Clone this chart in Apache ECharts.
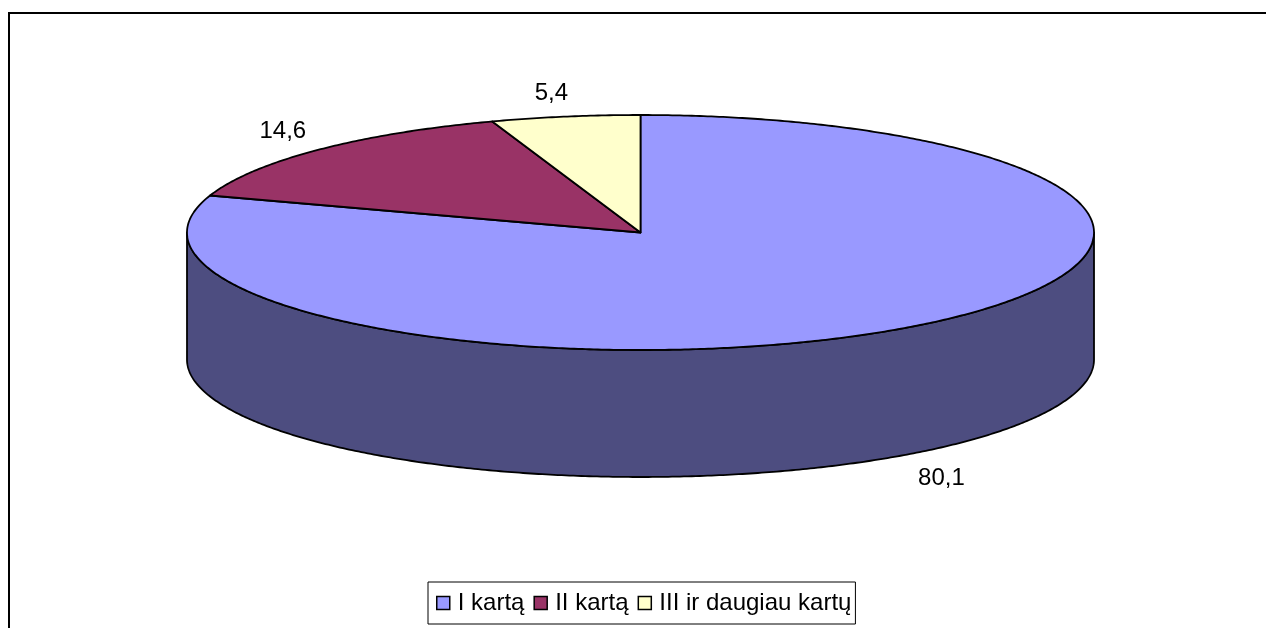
<!DOCTYPE html>
<html><head><meta charset="utf-8">
<style>html,body{margin:0;padding:0;background:#fff}#c{width:1266px;height:628px}</style>
<script src="https://cdn.jsdelivr.net/npm/echarts@6/dist/echarts.min.js"></script>
</head><body><div id="c"></div>
<script>
const categories = ['I kartą', 'II kartą', 'III ir daugiau kartų'];
const values = [80.1, 14.6, 5.4];
const valueLabels = ['80,1', '14,6', '5,4'];
const topColors = ['#9999FF', '#993366', '#FFFFCC'];
const wallColor = '#4D4D80';

const CX = 640.5, CY = 232.5, RX = 453.5, RY = 117.5, DEPTH = 127;
const FONT = '"Liberation Sans", Arial, sans-serif';
const labelOffset = [[35.5, 24], [-35, -19], [-14, -23]];

const pt = (deg, dy = 0) => {
  const r = deg * Math.PI / 180;
  return [CX + RX * Math.sin(r), CY - RY * Math.cos(r) + dy];
};
const arc = (a, b, dy = 0) => {
  const n = Math.max(2, Math.ceil(Math.abs(b - a) * 2)), out = [];
  for (let i = 0; i <= n; i++) out.push(pt(a + (b - a) * i / n, dy));
  return out;
};
const outline = { stroke: '#000', lineWidth: 1.8, lineJoin: 'round' };

function renderSlice(index) {
  return function () {
    // values are percentages: 1% = 3.6 degrees, clockwise from the top
    const start = values.slice(0, index).reduce((a, b) => a + b, 0) * 3.6;
    const end = Math.min(360, start + values[index] * 3.6);
    const children = [];
    const visA = Math.max(start, 90), visB = Math.min(end, 270);
    if (visB > visA) {
      children.push({
        type: 'polygon',
        shape: { points: arc(visA, visB).concat(arc(visB, visA, DEPTH)) },
        style: Object.assign({ fill: wallColor }, outline)
      });
    }
    children.push({
      type: 'polygon',
      shape: { points: [[CX, CY]].concat(arc(start, end)) },
      style: Object.assign({ fill: topColors[index] }, outline)
    });
    const mid = (start + end) / 2;
    const wallDrop = Math.cos(mid * Math.PI / 180) < 0 ? DEPTH : 0;
    const p = pt(mid, wallDrop);
    children.push({
      type: 'text',
      z2: 10,
      style: {
        x: p[0] + labelOffset[index][0],
        y: p[1] + labelOffset[index][1],
        text: valueLabels[index],
        fill: '#000',
        font: '24px ' + FONT,
        align: 'center',
        verticalAlign: 'middle'
      }
    });
    return { type: 'group', children };
  };
}

const chart = echarts.init(document.getElementById('c'), null, { renderer: 'canvas' });
chart.setOption({
  animation: false,
  backgroundColor: '#fff',
  graphic: [{
    type: 'polyline',
    z: -1,
    silent: true,
    shape: { points: [[9, 640], [9, 13], [1280, 13]] },
    style: { stroke: '#000', lineWidth: 2, fill: null }
  }],
  legend: {
    left: 428,
    top: 582,
    orient: 'horizontal',
    data: categories,
    selectedMode: false,
    backgroundColor: '#fff',
    borderColor: '#000',
    borderWidth: 1,
    padding: [8, 4, 8, 8],
    itemWidth: 13,
    itemHeight: 13,
    itemGap: 9,
    icon: 'rect',
    itemStyle: { borderColor: '#000', borderWidth: 1.5 },
    textStyle: { color: '#000', fontFamily: FONT, fontSize: 24, lineHeight: 26, padding: [0, 0, 0, 3] }
  },
  series: categories.map((name, i) => ({
    type: 'custom',
    name,
    coordinateSystem: 'none',
    silent: true,
    itemStyle: { color: topColors[i] },
    data: [values[i]],
    renderItem: renderSlice(i)
  }))
});
</script></body></html>
